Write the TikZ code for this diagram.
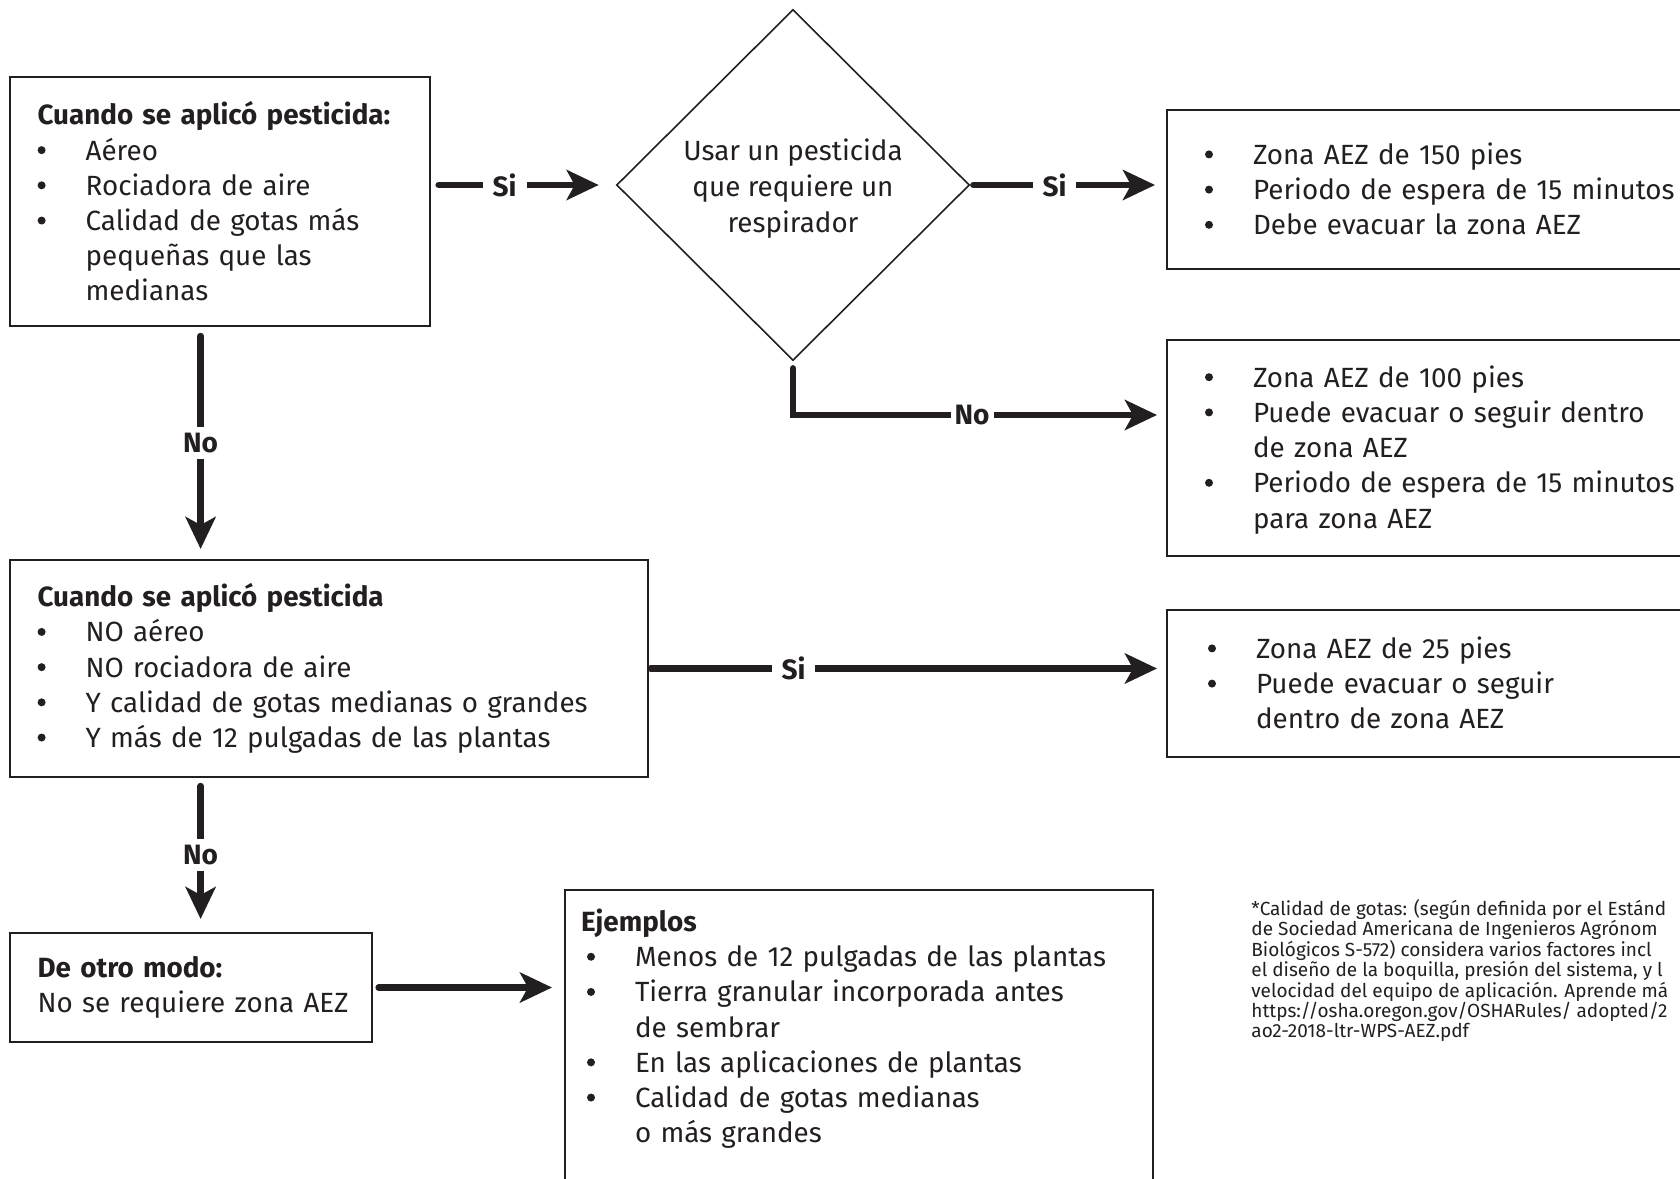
\documentclass[tikz,border=0pt]{standalone}
\usepackage{fontspec}
\setmainfont{Fira Sans}
\usetikzlibrary{shapes.geometric,arrows.meta}
\definecolor{ink}{HTML}{231F20}

\newcommand{\hd}[1]{\noindent\textbf{#1}}
\newcommand{\bul}{\tikz[baseline=-5pt]\fill[ink] (0pt,0pt) circle (2pt);}
\newcommand{\itm}[1]{\par\noindent\makebox[24pt][l]{\bul}\mbox{#1}}
\newcommand{\cont}[1]{\par\noindent\hspace*{24pt}\mbox{#1}}

\tikzset{
  box/.style={draw=ink, line width=1pt, anchor=north west, align=left, inner ysep=0pt,
    font=\fontsize{13.9}{17.6}\selectfont, text=ink},
  dec/.style={draw=ink, line width=0.8pt, shape=diamond, aspect=1, inner sep=0pt, align=center,
    minimum width=176.5pt, minimum height=175.5pt, font=\fontsize{13.9}{17.8}\selectfont, text=ink},
  arr/.style={ink, line width=3.2pt, line cap=round, -{Stealth[length=16pt,width=15pt,inset=4pt]}},
  lbl/.style={fill=white, inner xsep=5pt, inner ysep=3pt, text=ink, font=\fontsize{14}{14}\selectfont\bfseries},
  note/.style={anchor=north west, align=left, inner sep=0pt, text=ink, font=\fontsize{9.5}{10.2}\selectfont},
}

\begin{document}
\begin{tikzpicture}[x=0.5pt, y=-0.5pt]
\useasboundingbox (0,0) rectangle (1680,1178);

% left column
\node[box, inner xsep=14pt, text width=182pt, minimum height=124.5pt] (q1) at (8.6,76)
  {\hd{Cuando se aplicó pesticida:}\itm{Aéreo}\itm{Rociadora de aire}\itm{Calidad de gotas más}\cont{pequeñas que las}\cont{medianas}};
\node[box, inner xsep=14pt, text width=291pt, minimum height=108.5pt] (q2) at (8.6,559)
  {\hd{Cuando se aplicó pesticida}\itm{NO aéreo}\itm{NO rociadora de aire}\itm{Y calidad de gotas medianas o grandes}\itm{Y más de 12 pulgadas de las plantas}};
\node[box, inner xsep=14pt, text width=153pt, minimum height=54.5pt] (q3) at (8.6,932)
  {\hd{De otro modo:}\par\noindent\mbox{No se requiere zona AEZ}};

% decision
\node[dec] (dec) at (793,185) {\rule{0pt}{14.5pt}Usar un pesticida\\que requiere un\\respirador};

% right column
\node[box, inner xsep=19pt, text width=300pt, minimum height=79.5pt] (r1) at (1166,109)
  {\itm{Zona AEZ de 150 pies}\itm{Periodo de espera de 15 minutos}\itm{Debe evacuar la zona AEZ\rule[-7.5pt]{0pt}{0pt}}};
\node[box, inner xsep=19pt, text width=300pt, minimum height=108pt] (r2) at (1166,339)
  {\itm{Zona AEZ de 100 pies}\itm{Puede evacuar o seguir dentro}\cont{de zona AEZ}\itm{Periodo de espera de 15 minutos}\cont{para zona AEZ\rule[-8pt]{0pt}{0pt}}};
\node[box, inner xsep=20.5pt, text width=300pt, minimum height=73.5pt] (r3) at (1166,609)
  {\itm{Zona AEZ de 25 pies}\itm{Puede evacuar o seguir}\cont{dentro de zona AEZ\rule[-7.5pt]{0pt}{0pt}}};

% examples
\node[box, inner xsep=11pt, inner ysep=9.5pt, text width=272pt] (ex) at (564,889)
  {\hspace*{-3pt}\hd{Ejemplos}\itm{Menos de 12 pulgadas de las plantas}\itm{Tierra granular incorporada antes}\cont{de sembrar}\itm{En las aplicaciones de plantas}\itm{Calidad de gotas medianas}\cont{o más grandes\rule[-30pt]{0pt}{0pt}}};

\node[note] (nota) at (1251,899)
  {*Calidad de gotas: (según definida por el Estánd\\
   de Sociedad Americana de Ingenieros Agrónom\\
   Biológicos S-572) considera varios factores incl\\
   el diseño de la boquilla, presión del sistema, y l\\
   velocidad del equipo de aplicación. Aprende má\\
   https://osha.oregon.gov/OSHARules/ adopted/2\\
   ao2-2018-ltr-WPS-AEZ.pdf};

% connectors
\draw[arr, shorten <=4pt, shorten >=8.5pt] (q1.east |- dec.west) -- node[lbl, pos=0.4]{Si} (dec.west);
\draw[arr, shorten <=1.5pt, shorten >=5.5pt] (dec.east) -- node[lbl, pos=0.43]{Si} (r1.west |- dec.east);
\draw[arr, shorten <=3.5pt, shorten >=4.5pt] (dec.south) |- node[lbl, pos=0.74, inner xsep=2pt]{No} ([yshift=16.5pt]r2.west);
\draw[arr, shorten <=4.5pt, shorten >=5pt] ([xshift=96pt]q1.south west) -- node[lbl]{No} ([xshift=96pt]q2.north west);
\draw[arr, shorten <=1pt, shorten >=4.5pt] (q2.east) -- node[lbl, pos=0.28]{Si} (r3.west |- q2.east);
\draw[arr, shorten <=4pt, shorten >=6.5pt] ([xshift=96pt]q2.south west) -- node[lbl]{No} ([xshift=96pt]q3.north west);
\draw[arr, shorten <=3pt, shorten >=6pt] (q3.east) -- (ex.west |- q3.east);
\end{tikzpicture}
\end{document}
